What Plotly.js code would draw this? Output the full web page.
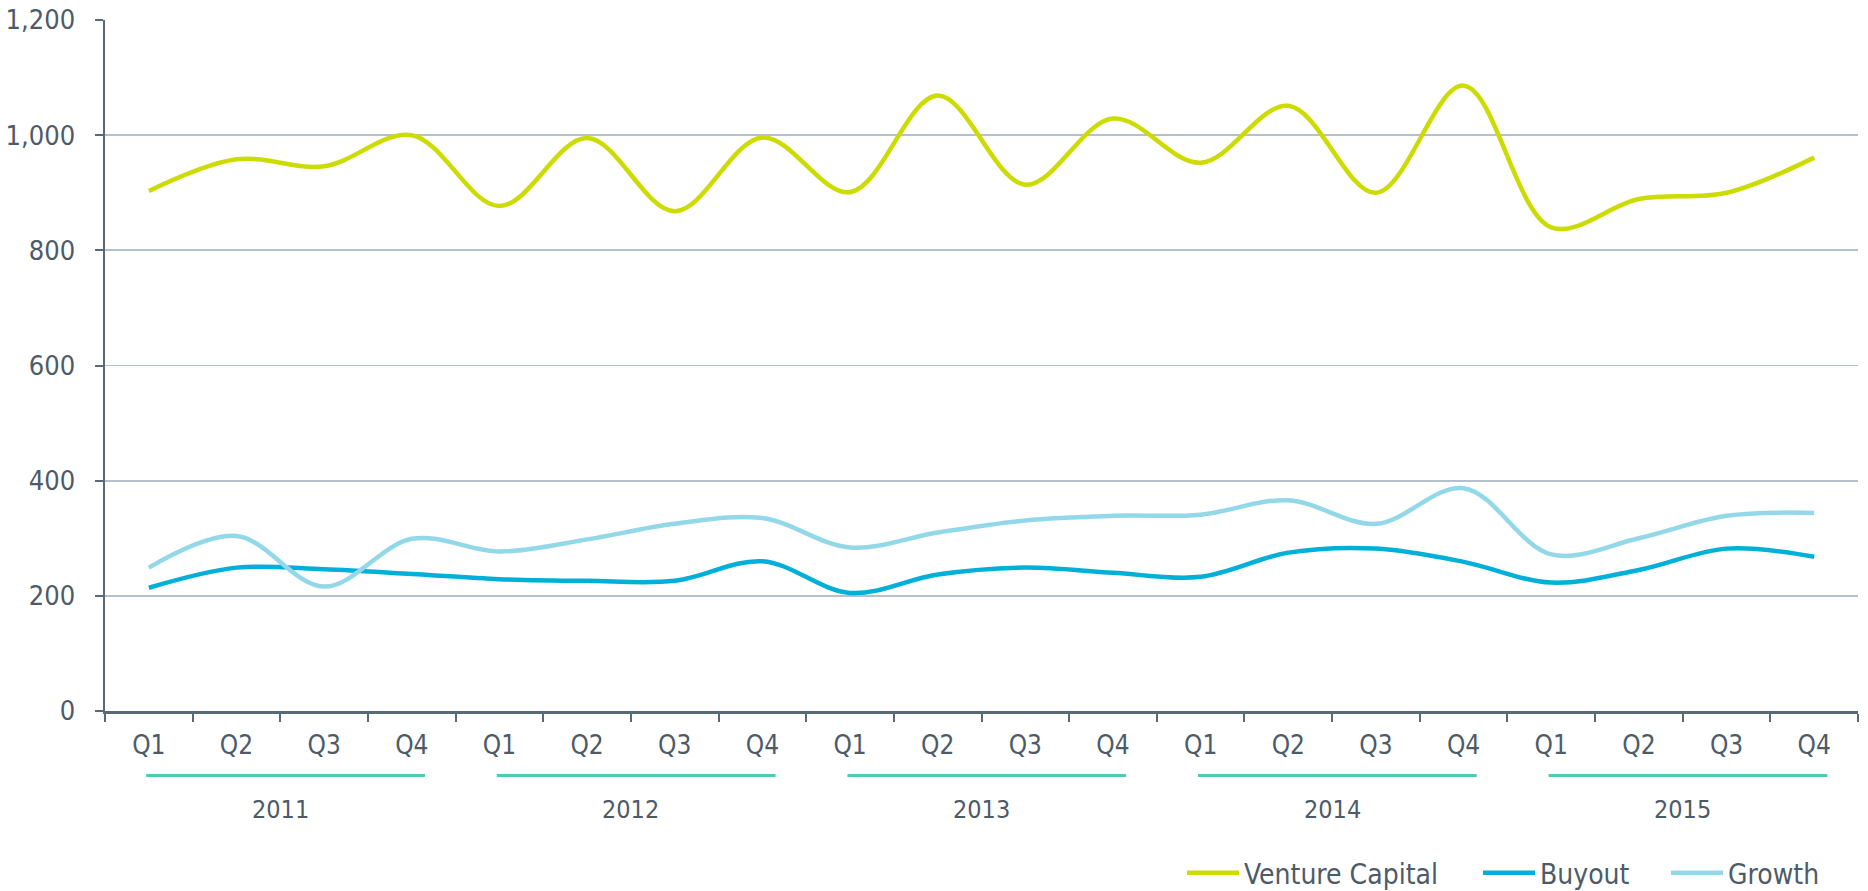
<!DOCTYPE html>
<html>
<head>
<meta charset="utf-8">
<script src="https://cdn.plot.ly/plotly-3.0.1.min.js"></script>
<style>
  html, body { margin: 0; padding: 0; background: #ffffff; }
  #chart { width: 1868px; height: 891px; }
</style>
</head>
<body>
<div id="chart"></div>
<script>
// ---- data ----
const years = ["2011", "2012", "2013", "2014", "2015"];
const quarters = ["Q1", "Q2", "Q3", "Q4"];
const ventureCapital = [903, 958, 946, 1000, 877, 995, 868, 996, 901, 1069, 914, 1029, 952, 1051, 900, 1086, 840, 889, 900, 961];
const buyout = [214, 249, 246, 238, 229, 226, 226, 260, 205, 237, 249, 240, 233, 275, 282, 259, 223, 245, 282, 268];
const growth = [249, 304, 216, 299, 277, 298, 325, 335, 284, 310, 331, 339, 341, 366, 325, 387, 272, 300, 339, 344];
const seriesNames = ["Venture Capital", "Buyout", "Growth"];

// ---- build ----
const cats = [];
const catText = [];
years.forEach(y => quarters.forEach(q => { cats.push(y + " " + q); catText.push(q); }));

const textColor = "#4d5b69";
const fontFamily = "'DejaVu Sans Condensed', 'DejaVu Sans', sans-serif";

function line(name, vals, color, legendId) {
  return {
    type: "scatter", mode: "lines", name: name, x: cats, y: vals,
    legend: legendId,
    line: { color: color, width: 4.5, shape: "spline", smoothing: 1.0 },
    hoverinfo: "skip"
  };
}
const data = [
  line(seriesNames[0], ventureCapital, "#cddc00", "legend"),
  line(seriesNames[1], buyout, "#00b0d8", "legend2"),
  line(seriesNames[2], growth, "#93d8e8", "legend3")
];

const shapes = [];
const annotations = [];
years.forEach((y, k) => {
  const s = k * quarters.length;
  shapes.push({
    type: "line", xref: "x", yref: "paper",
    x0: s - 0.03, x1: s + 3.15, y0: -0.0934, y1: -0.0934,
    line: { color: "#4ecbb5", width: 3 }
  });
  annotations.push({
    xref: "x", yref: "paper", x: s + 1.5, y: -0.142,
    text: y, showarrow: false, xanchor: "center", yanchor: "middle",
    font: { family: fontFamily, size: 25, color: textColor }
  });
});

function legendAt(xPx) {
  return {
    orientation: "h", xref: "container", yref: "container",
    x: xPx / 1868, xanchor: "left", y: 1 - 873 / 891, yanchor: "middle",
    font: { family: fontFamily, size: 28, color: textColor },
    bgcolor: "rgba(0,0,0,0)", itemwidth: 52
  };
}

const layout = {
  width: 1868, height: 891,
  margin: { l: 105, r: 10, t: 20, b: 180 },
  paper_bgcolor: "#ffffff", plot_bgcolor: "#ffffff",
  font: { family: fontFamily, size: 27, color: textColor },
  showlegend: true,
  legend: legendAt(1182),
  legend2: legendAt(1478),
  legend3: legendAt(1666),
  xaxis: {
    type: "category", tickmode: "array", tickvals: cats, ticktext: catText,
    tickson: "boundaries", ticks: "outside", ticklen: 8, tickwidth: 2, tickcolor: "#5a6978",
    showline: true, linecolor: "#5a6978", linewidth: 2.5,
    showgrid: false, zeroline: false, range: [-0.5, 19.5],
    tickfont: { family: fontFamily, size: 26, color: textColor },
    ticklabelstandoff: 9, fixedrange: true
  },
  yaxis: {
    range: [0, 1200], tickmode: "array", tickvals: [0, 200, 400, 600, 800, 1000, 1200],
    tickformat: ",d", ticks: "outside", ticklen: 8, tickwidth: 2, tickcolor: "#5a6978",
    showline: true, linecolor: "#5a6978", linewidth: 2.5,
    showgrid: true, gridcolor: "#b4c0cc", gridwidth: 1.8, zeroline: false,
    tickfont: { family: fontFamily, size: 27, color: textColor },
    ticklabelstandoff: 14, fixedrange: true
  },
  shapes: shapes,
  annotations: annotations
};

Plotly.newPlot("chart", data, layout, { displayModeBar: false, staticPlot: true });
</script>
</body>
</html>
